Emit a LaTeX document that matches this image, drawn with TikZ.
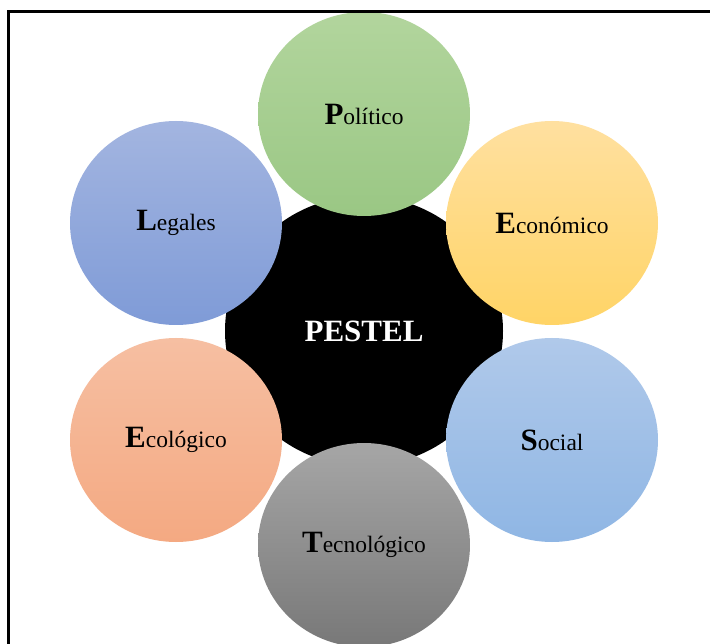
\documentclass[tikz,border=0pt]{standalone}
\usepackage{fontspec}
\setmainfont{Liberation Serif}
\usetikzlibrary{shapes.geometric}
% Word with a large bold initial followed by regular text
\newcommand{\capword}[2]{{\fontsize{31}{31}\selectfont\bfseries #1}{\fontsize{23.5}{24}\selectfont #2}}
\begin{document}
\begin{tikzpicture}[x=1pt,y=-1pt,
  factor/.style={ellipse, minimum width=212pt, minimum height=204pt,
                 inner sep=0pt, text=black},
  hub/.style={ellipse, fill=black, minimum width=278pt, minimum height=270pt,
              inner sep=0pt, text=white, font=\fontsize{31}{31}\selectfont\bfseries},
  frameline/.style={line width=2.7pt, black}]
\useasboundingbox (0,0) rectangle (710,644);
\clip (0,0) rectangle (710,644);
\fill[white] (0,0) rectangle (710,644);

% central hub
\node[hub] (pestel) at (364,331) {PESTEL};

% the six factors around the hub
\node[factor, top color={rgb,255:red,178;green,213;blue,157}, bottom color={rgb,255:red,154;green,199;blue,132}]
  (pol) at (364,114) {\capword{P}{olítico}};
\node[factor, top color={rgb,255:red,255;green,224;blue,160}, bottom color={rgb,255:red,255;green,212;blue,102}]
  (eco) at (552,223) {\capword{E}{conómico}};
\node[factor, top color={rgb,255:red,176;green,201;blue,234}, bottom color={rgb,255:red,143;green,182;blue,228}]
  (soc) at (552,440) {\capword{S}{ocial}};
\node[factor, top color={rgb,255:red,166;green,166;blue,166}, bottom color={rgb,255:red,120;green,120;blue,120}]
  (tec) at (364,545) {\capword{T}{ecnológico}};
\node[factor, top color={rgb,255:red,246;green,191;blue,162}, bottom color={rgb,255:red,244;green,169;blue,130}]
  (ecol) at (176,440) {\capword{E}{cológico}};
\node[factor, top color={rgb,255:red,163;green,181;blue,224}, bottom color={rgb,255:red,127;green,155;blue,215}]
  (leg) at (176,223) {\capword{L}{egales}};

% frame along the top and left edges
\draw[frameline] (8.7,700) -- (8.7,11.3) -- (720,11.3);
\end{tikzpicture}
\end{document}
